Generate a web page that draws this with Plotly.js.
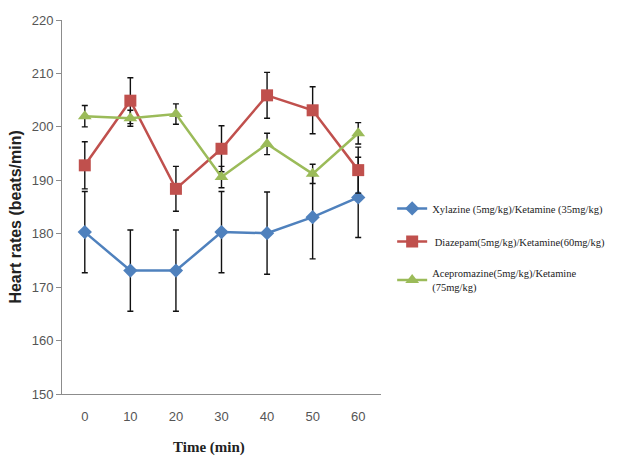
<!DOCTYPE html>
<html>
<head>
<meta charset="utf-8">
<script src="https://cdn.plot.ly/plotly-3.0.1.min.js"></script>
<style>html,body{margin:0;padding:0;background:#fff;}#chart{width:623px;height:458px;}</style>
</head>
<body>
<div id="chart"></div>
<script>
var times = [0, 10, 20, 30, 40, 50, 60];
var seriesNames = [
  "Xylazine (5mg/kg)/Ketamine (35mg/kg)",
  " Diazepam(5mg/kg)/Ketamine(60mg/kg)",
  "Acepromazine(5mg/kg)/Ketamine<br>(75mg/kg)"
];
var xTitle = "Time (min)";
var yTitle = "Heart rates (beats/min)";
var xylazine = [180.3, 173.1, 173.1, 180.3, 180.1, 183.1, 186.8];
var xylazineErr = [7.6, 7.6, 7.6, 7.6, 7.7, 7.8, 7.5];
var diazepam = [192.8, 204.9, 188.4, 195.9, 205.9, 203.1, 191.9];
var diazepamErr = [4.4, 4.3, 4.2, 4.3, 4.3, 4.4, 4.3];
var acepromazine = [202.0, 201.6, 202.4, 190.6, 196.8, 191.2, 198.8];
var acepromazineErr = [2.0, 1.5, 1.9, 2.0, 2.0, 1.8, 2.0];

var colors = ["#4F81BD", "#C0504D", "#9BBB59"];
var symbols = ["diamond", "square", "triangle-up"];
var vals = [xylazine, diazepam, acepromazine];
var errs = [xylazineErr, diazepamErr, acepromazineErr];
var sizes = [11, 12, 12];

var traces = vals.map(function(v, i) {
  return {
    x: times, y: v, name: seriesNames[i], type: "scatter", mode: "lines+markers",
    legendgroup: "g" + i,
    line: {color: colors[i], width: 2.5},
    marker: {symbol: symbols[i], color: colors[i], size: sizes[i]},
    error_y: {type: "data", array: errs[i], visible: true, color: "#111", thickness: 1.4, width: 3}
  };
});

var layout = {
  width: 623, height: 458,
  margin: {l: 62, r: 242, t: 20, b: 64},
  paper_bgcolor: "#fff", plot_bgcolor: "#fff",
  showlegend: true,
  legend: {
    x: 1.035, y: 0.535, xanchor: "left", yanchor: "top",
    font: {family: "Liberation Serif, Times New Roman, serif", size: 10.5, color: "#222"},
    tracegroupgap: 14, itemwidth: 30, bgcolor: "rgba(0,0,0,0)", borderwidth: 0
  },
  annotations: [{
    text: "<b>" + xTitle + "</b>", xref: "paper", yref: "paper",
    x: 0.461, y: -0.144, xanchor: "center", yanchor: "middle", showarrow: false,
    font: {family: "Liberation Serif, Times New Roman, serif", size: 15, color: "#222"}
  }, {
    text: "<b>" + yTitle + "</b>", xref: "paper", yref: "paper", textangle: -90,
    x: -0.147, y: 0.472, xanchor: "center", yanchor: "middle", showarrow: false,
    font: {family: "Liberation Sans, Arial, sans-serif", size: 16, color: "#222"}
  }],
  xaxis: {
    range: [-5, 65], tickvals: times, ticktext: times.map(String),
    showgrid: false, zeroline: false, showline: true, linecolor: "#8c8c8c", linewidth: 1,
    ticks: "", ticklabelstandoff: 10,
    tickfont: {family: "Liberation Sans Narrow, Arial Narrow, Liberation Sans, sans-serif", size: 13, color: "#555"}
  },
  yaxis: {
    range: [150, 220], dtick: 10,
    showgrid: false, zeroline: false, showline: true, linecolor: "#8c8c8c", linewidth: 1,
    ticks: "outside", ticklen: 5, tickcolor: "#8c8c8c",
    tickfont: {family: "Liberation Sans Narrow, Arial Narrow, Liberation Sans, sans-serif", size: 13, color: "#555"}
  }
};

Plotly.newPlot("chart", traces, layout, {displayModeBar: false, staticPlot: true});
</script>
</body>
</html>
